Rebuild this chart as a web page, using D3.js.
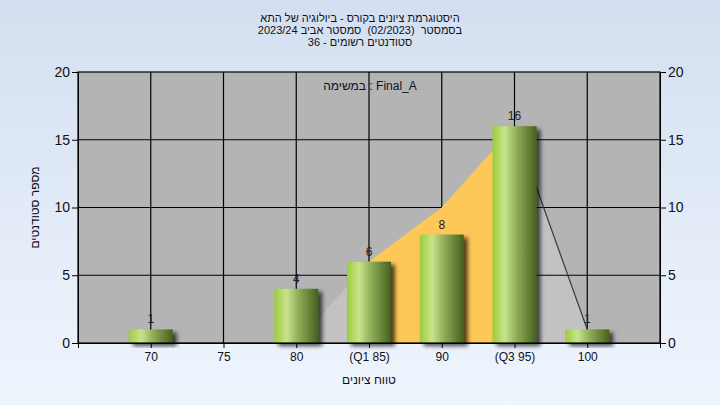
<!DOCTYPE html>
<html><head><meta charset="utf-8">
<script src="https://cdn.jsdelivr.net/npm/d3@7"></script>
<style>
html,body{margin:0;padding:0;}
body{width:720px;height:405px;overflow:hidden;}
text{font-family:"Liberation Sans",Arial,sans-serif;}
</style></head>
<body>
<svg id="c" width="720" height="405"></svg>
<script>
const categories = ["70","75","80","(Q1 85)","90","(Q3 95)","100"];
const counts = [1,0,4,6,8,16,1];
const curveValues = [0,0,0,6,10,16,1];
const yTicks = [0,5,10,15,20];
const titleLines = ["היסטוגרמת ציונים בקורס - ביולוגיה של התא","בסמסטר  (02/2023)  סמסטר אביב 2023/24","סטודנטים רשומים - 36"];
const assignmentLabel = "Final_A : במשימה";
const xTitle = "טווח ציונים";
const yTitle = "מספר סטודנטים";
const q1Index = 3, q3Index = 5;

const svg = d3.select("#c");
const defs = svg.append("defs");
const bg = defs.append("linearGradient").attr("id","bg").attr("x1",0).attr("y1",0).attr("x2",0).attr("y2",1);
bg.append("stop").attr("offset","0%").attr("stop-color","#d3dff0");
bg.append("stop").attr("offset","100%").attr("stop-color","#eff5fd");
const bar = defs.append("linearGradient").attr("id","bar").attr("x1",0).attr("y1",0).attr("x2",1).attr("y2",0);
bar.append("stop").attr("offset","0%").attr("stop-color","#9ccc3c");
bar.append("stop").attr("offset","28%").attr("stop-color","#c8e38c");
bar.append("stop").attr("offset","55%").attr("stop-color","#8fae58");
bar.append("stop").attr("offset","100%").attr("stop-color","#475f1e");
const f = defs.append("filter").attr("id","sh").attr("x","-20%").attr("y","-20%").attr("width","150%").attr("height","150%");
f.append("feGaussianBlur").attr("in","SourceAlpha").attr("stdDeviation",2).attr("result","b");
f.append("feOffset").attr("in","b").attr("dx",4).attr("dy",3).attr("result","o");
f.append("feComponentTransfer").attr("in","o").attr("result","o2").append("feFuncA").attr("type","linear").attr("slope",0.7);
const fm = f.append("feMerge");
fm.append("feMergeNode").attr("in","o2");
fm.append("feMergeNode").attr("in","SourceGraphic");

svg.append("rect").attr("width",720).attr("height",405).attr("fill","url(#bg)");

const L = 78, R = 660, T = 72, B = 343;
const x = d3.scalePoint().domain(categories).range([L,R]).padding(1);
const y = d3.scaleLinear().domain([0,20]).range([B,T]);

svg.append("rect").attr("x",L).attr("y",T).attr("width",R-L).attr("height",B-T).attr("fill","#b4b4b4");

const pts = categories.map((c,i)=>({c, v:curveValues[i], i}));
const area = d3.area().x(d=>x(d.c)).y0(y(0)).y1(d=>y(d.v));
const line = d3.line().x(d=>x(d.c)).y(d=>y(d.v));
svg.append("path").attr("d",area(pts)).attr("fill","#c2c2c2");
svg.append("path").attr("d",line(pts.filter(d=>d.i<=2))).attr("fill","none").attr("stroke","#8a8a8a").attr("stroke-width",1);

// grid
const g = svg.append("g");
g.selectAll(".gx").data(categories).join("line").attr("x1",d=>x(d)).attr("x2",d=>x(d)).attr("y1",T).attr("y2",B).attr("stroke","#000").attr("stroke-width",1.2);
g.selectAll(".gy").data(yTicks.filter(t=>t>0&&t<20)).join("line").attr("x1",L).attr("x2",R).attr("y1",d=>y(d)).attr("y2",d=>y(d)).attr("stroke","#000").attr("stroke-width",1.2);

// interquartile area drawn over grid
svg.append("path").attr("d",area(pts.filter(d=>d.i>=q1Index && d.i<=q3Index))).attr("fill","#fdc857");
svg.append("path").attr("d",line(pts.filter(d=>d.i>=q3Index))).attr("fill","none").attr("stroke","#3a3a3a").attr("stroke-width",1.2);

// bars
const bw = 44;
const data = categories.map((c,i)=>({c, v:counts[i]}));
svg.append("g").selectAll("rect").data(data.filter(d=>d.v>0)).join("rect")
  .attr("x",d=>x(d.c)-bw/2).attr("y",d=>y(d.v)).attr("width",bw).attr("height",d=>y(0)-y(d.v))
  .attr("fill","url(#bar)").attr("filter","url(#sh)");
svg.append("g").selectAll("text").data(data.filter(d=>d.v>0)).join("text")
  .attr("x",d=>x(d.c)).attr("y",d=>y(d.v)-6).attr("text-anchor","middle")
  .attr("font-size",12).attr("fill","#1c1c2c").text(d=>d.v);

// frame
svg.append("rect").attr("x",L).attr("y",T).attr("width",R-L).attr("height",B-T).attr("fill","none").attr("stroke","#000").attr("stroke-width",1.2);

// axes
const ax = svg.append("g").attr("transform",`translate(0,${B})`).call(d3.axisBottom(x).tickSize(5).tickPadding(4));
ax.select(".domain").attr("stroke","#000");
ax.selectAll("text").attr("font-size",12).attr("fill","#101020").attr("font-family","Liberation Sans, Arial");
const ay = svg.append("g").attr("transform",`translate(${L},0)`).call(d3.axisLeft(y).tickValues(yTicks).tickSize(6).tickPadding(2));
ay.selectAll("text").attr("font-size",14).attr("fill","#101020").attr("font-family","Liberation Sans, Arial");
const ay2 = svg.append("g").attr("transform",`translate(${R},0)`).call(d3.axisRight(y).tickValues(yTicks).tickSize(6).tickPadding(2));
ay2.selectAll("text").attr("font-size",14).attr("fill","#101020").attr("font-family","Liberation Sans, Arial");

// titles
svg.append("g").selectAll("text").data(titleLines).join("text")
  .attr("x",360).attr("y",(d,i)=>22+i*12).attr("text-anchor","middle").attr("direction","rtl")
  .style("unicode-bidi","embed").style("white-space","pre").attr("font-size",11).attr("fill","#101020").text(d=>d);
svg.append("text").attr("x",370).attr("y",90).attr("text-anchor","middle").attr("direction","rtl")
  .style("unicode-bidi","embed").attr("font-size",12).attr("fill","#101020").text(assignmentLabel);
svg.append("text").attr("x",(L+R)/2).attr("y",384).attr("text-anchor","middle").attr("direction","rtl")
  .style("unicode-bidi","embed").attr("font-size",12).attr("fill","#101020").text(xTitle);
svg.append("text").attr("transform",`translate(39,${(T+B)/2}) rotate(-90)`).attr("text-anchor","middle").attr("direction","rtl")
  .style("unicode-bidi","embed").attr("font-size",12).attr("fill","#101020").text(yTitle);
</script>
</body></html>
